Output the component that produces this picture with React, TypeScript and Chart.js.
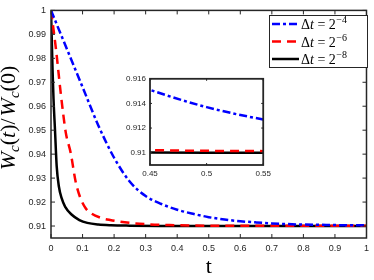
import React, { useEffect, useRef } from "react";
import { Chart, registerables } from "chart.js";
Chart.register(...registerables);

// ---- data ----
const X_TICKS = [0, 0.1, 0.2, 0.3, 0.4, 0.5, 0.6, 0.7, 0.8, 0.9, 1];
const Y_TICKS = [0.91, 0.92, 0.93, 0.94, 0.95, 0.96, 0.97, 0.98, 0.99, 1];
const INSET_X_TICKS = [0.45, 0.5, 0.55];
const INSET_Y_TICKS = [0.91, 0.912, 0.914, 0.916];

const BLUE_T = [0, 0.05, 0.1, 0.15, 0.2, 0.25, 0.3, 0.35, 0.4, 0.45, 0.5, 0.55, 0.6, 0.65, 0.7, 0.75, 0.8, 0.85, 0.9, 0.95, 1];
const BLUE_V = [1, 0.984, 0.968, 0.952, 0.9385, 0.9285, 0.9225, 0.9192, 0.9168, 0.9151, 0.9137, 0.9127, 0.912, 0.9115, 0.9111, 0.9108, 0.9106, 0.9105, 0.9104, 0.9103, 0.9103];

const RED_T = [0, 0.0156, 0.03125, 0.046875, 0.0625, 0.078125, 0.09375, 0.109375, 0.125, 0.15625, 0.1875, 0.25, 0.3125, 0.375, 0.5, 0.625, 0.75, 1];
const RED_V = [1, 0.984, 0.965, 0.949, 0.9405, 0.9285, 0.9215, 0.9175, 0.9155, 0.9135, 0.9125, 0.9113, 0.9107, 0.9104, 0.91015, 0.91012, 0.91012, 0.91012];

const BLACK_T = [0, 0.002, 0.005, 0.008, 0.0127, 0.018, 0.025, 0.034, 0.045, 0.065, 0.09, 0.115, 0.15, 0.19, 0.25, 0.35, 0.5, 0.75, 1];
const BLACK_V = [1, 0.99, 0.975, 0.963, 0.95, 0.935, 0.9265, 0.9215, 0.918, 0.9148, 0.9125, 0.9113, 0.9106, 0.9103, 0.91015, 0.91005, 0.91, 0.91, 0.91];

const SERIES_EXP = ["4", "6", "8"];
const SERIES_COLORS = ["#0000ff", "#ff0000", "#000000"];
const SERIES_DASH = [[8, 3, 3, 3], [9, 6], []];

const AXIS_COLOR = "#262626";
const SERIF = '"Liberation Serif", "DejaVu Serif", serif';
const SANS = '"Liberation Sans", Arial, sans-serif';

function fmt(v: number) {
  return String(parseFloat(Number(v).toFixed(3)));
}

function toXY(t: number[], v: number[]) {
  return t.map((x, i) => ({ x, y: v[i] }));
}

function makeDatasets(lw: number) {
  const all = [
    [BLUE_T, BLUE_V],
    [RED_T, RED_V],
    [BLACK_T, BLACK_V],
  ];
  return all.map(([t, v], i) => ({
    label: "dt=2^-" + SERIES_EXP[i],
    data: toXY(t as number[], v as number[]),
    borderColor: SERIES_COLORS[i],
    borderWidth: lw,
    borderDash: SERIES_DASH[i],
    pointRadius: 0,
    cubicInterpolationMode: "monotone" as const,
    fill: false,
  }));
}

function boxPlugin(id: string, tickLen: number, xt: number[], yt: number[], lw: number, whiteBg: boolean) {
  return {
    id,
    beforeDatasetsDraw(chart: any) {
      if (!whiteBg) return;
      const { ctx, chartArea: a } = chart;
      ctx.save();
      ctx.fillStyle = "#ffffff";
      ctx.fillRect(a.left, a.top, a.right - a.left, a.bottom - a.top);
      ctx.restore();
    },
    afterDatasetsDraw(chart: any) {
      const { ctx, chartArea: a, scales } = chart;
      const x = scales.x, y = scales.y;
      ctx.save();
      ctx.strokeStyle = AXIS_COLOR;
      ctx.lineWidth = lw;
      ctx.strokeRect(a.left, a.top, a.right - a.left, a.bottom - a.top);
      ctx.beginPath();
      for (const v of xt) {
        const px = x.getPixelForValue(v);
        ctx.moveTo(px, a.bottom); ctx.lineTo(px, a.bottom - tickLen);
        ctx.moveTo(px, a.top); ctx.lineTo(px, a.top + tickLen);
      }
      for (const v of yt) {
        const py = y.getPixelForValue(v);
        ctx.moveTo(a.left, py); ctx.lineTo(a.left + tickLen, py);
        ctx.moveTo(a.right, py); ctx.lineTo(a.right - tickLen, py);
      }
      ctx.lineWidth = 1;
      ctx.stroke();
      ctx.restore();
    },
  };
}

const decorPlugin = {
  id: "decor",
  afterDraw(chart: any) {
    const { ctx } = chart;
    ctx.save();
    ctx.fillStyle = "#000";
    // x title
    ctx.font = `22px ${SERIF}`;
    ctx.textAlign = "center";
    ctx.textBaseline = "alphabetic";
    const xs = chart.scales.x;
    ctx.fillText("t", (xs.left + xs.right) / 2, 273);

    // y title (rotated)
    const pieces: { t: string; it: boolean; sub?: boolean; over?: boolean }[] = [
      { t: "W", it: true, over: true },
      { t: "c", it: true, sub: true },
      { t: "(", it: false },
      { t: "t", it: true },
      { t: ")", it: false },
      { t: "/", it: false },
      { t: "W", it: true, over: true },
      { t: "c", it: true, sub: true },
      { t: "(0)", it: false },
    ];
    const big = 22, small = 15;
    const fontOf = (p: any) => `${p.it ? "italic " : ""}${p.sub ? small : big}px ${SERIF}`;
    let total = 0;
    const widths = pieces.map((p) => {
      ctx.font = fontOf(p);
      const w = ctx.measureText(p.t).width + (p.t === "/" ? 2 : 0);
      total += w;
      return w;
    });
    ctx.translate(15, 118);
    ctx.rotate(-Math.PI / 2);
    ctx.textAlign = "left";
    let cx = -total / 2;
    pieces.forEach((p, i) => {
      ctx.font = fontOf(p);
      const yoff = p.sub ? 4 : 0;
      ctx.fillText(p.t, cx, yoff);
      if (p.over) {
        ctx.strokeStyle = "#000";
        ctx.lineWidth = 1;
        ctx.beginPath();
        ctx.moveTo(cx + 2, -17.5);
        ctx.lineTo(cx + widths[i] + 1, -17.5);
        ctx.stroke();
      }
      cx += widths[i];
    });
    ctx.restore();

    // legend
    ctx.save();
    const lx = 269, ly = 15, lw = 98, lh = 52;
    ctx.fillStyle = "#fff";
    ctx.fillRect(lx, ly, lw, lh);
    ctx.strokeStyle = AXIS_COLOR;
    ctx.lineWidth = 1;
    ctx.strokeRect(lx + 0.5, ly + 0.5, lw, lh);
    const rows = [24, 41.5, 59];
    rows.forEach((ry, i) => {
      ctx.strokeStyle = SERIES_COLORS[i];
      ctx.lineWidth = 2.5;
      ctx.setLineDash(SERIES_DASH[i]);
      ctx.beginPath();
      ctx.moveTo(272, ry);
      ctx.lineTo(299, ry);
      ctx.stroke();
      ctx.setLineDash([]);
      ctx.fillStyle = "#000";
      ctx.textAlign = "left";
      ctx.textBaseline = "alphabetic";
      let tx = 301;
      const base = ry + 5;
      ctx.font = `14px ${SERIF}`;
      ctx.fillText("Δ", tx, base);
      tx += ctx.measureText("Δ").width;
      ctx.font = `italic 14px ${SERIF}`;
      ctx.fillText("t", tx, base);
      tx += ctx.measureText("t").width + 3.5;
      ctx.font = `14px ${SERIF}`;
      ctx.fillText("=", tx, base);
      tx += ctx.measureText("=").width + 3.5;
      ctx.fillText("2", tx, base);
      tx += ctx.measureText("2").width + 0.5;
      ctx.font = `10px ${SERIF}`;
      ctx.fillText("\u2212" + SERIES_EXP[i], tx, base - 6);
    });
    ctx.restore();
  },
};

export default function App() {
  const mainRef = useRef<HTMLCanvasElement>(null);
  const insetRef = useRef<HTMLCanvasElement>(null);

  useEffect(() => {
    document.body.style.margin = "0";
    const main = new Chart(mainRef.current!, {
      type: "line",
      data: { datasets: makeDatasets(2.5) as any },
      options: {
        animation: false,
        responsive: false,
        maintainAspectRatio: false,
        layout: { padding: { top: 5, right: 7, left: 0, bottom: 0 } },
        plugins: { legend: { display: false }, tooltip: { enabled: false } },
        scales: {
          x: {
            type: "linear",
            min: 0,
            max: 1,
            afterBuildTicks: (s: any) => { s.ticks = X_TICKS.map((value) => ({ value })); },
            afterFit: (s: any) => { s.height = 42; },
            ticks: { color: AXIS_COLOR, font: { family: SANS, size: 9 }, padding: 5, maxRotation: 0, autoSkip: false, callback: (v: any) => fmt(v) },
            grid: { display: false, drawTicks: false },
            border: { display: false },
          },
          y: {
            type: "linear",
            min: 0.905,
            max: 1,
            afterBuildTicks: (s: any) => { s.ticks = Y_TICKS.map((value) => ({ value })); },
            afterFit: (s: any) => { s.width = 51; },
            ticks: { color: AXIS_COLOR, font: { family: SANS, size: 9 }, padding: 5, autoSkip: false, callback: (v: any) => fmt(v) },
            grid: { display: false, drawTicks: false },
            border: { display: false },
          },
        },
      },
      plugins: [boxPlugin("mainBox", 4, X_TICKS, Y_TICKS, 1.5, false), decorPlugin],
    });

    const inset = new Chart(insetRef.current!, {
      type: "line",
      data: { datasets: makeDatasets(2.5) as any },
      options: {
        animation: false,
        responsive: false,
        maintainAspectRatio: false,
        layout: { padding: { top: 8, right: 6, left: 0, bottom: 0 } },
        plugins: { legend: { display: false }, tooltip: { enabled: false } },
        scales: {
          x: {
            type: "linear",
            min: 0.45,
            max: 0.55,
            afterBuildTicks: (s: any) => { s.ticks = INSET_X_TICKS.map((value) => ({ value })); },
            afterFit: (s: any) => { s.height = 17; },
            ticks: { color: AXIS_COLOR, font: { family: SANS, size: 8 }, padding: 4, maxRotation: 0, autoSkip: false, callback: (v: any) => fmt(v) },
            grid: { display: false, drawTicks: false },
            border: { display: false },
          },
          y: {
            type: "linear",
            min: 0.909,
            max: 0.916,
            afterBuildTicks: (s: any) => { s.ticks = INSET_Y_TICKS.map((value) => ({ value })); },
            afterFit: (s: any) => { s.width = 40; },
            ticks: { color: AXIS_COLOR, font: { family: SANS, size: 8 }, padding: 4, autoSkip: false, callback: (v: any) => fmt(v) },
            grid: { display: false, drawTicks: false },
            border: { display: false },
          },
        },
      },
      plugins: [boxPlugin("insetBox", 2, INSET_X_TICKS, INSET_Y_TICKS, 1.8, true)],
    });

    return () => {
      main.destroy();
      inset.destroy();
    };
  }, []);

  return (
    <div style={{ position: "relative", width: 374, height: 280 }}>
      <canvas ref={mainRef} width={374} height={280} style={{ position: "absolute", left: 0, top: 0 }} />
      <canvas ref={insetRef} width={165} height={112} style={{ position: "absolute", left: 110, top: 70 }} />
    </div>
  );
}
